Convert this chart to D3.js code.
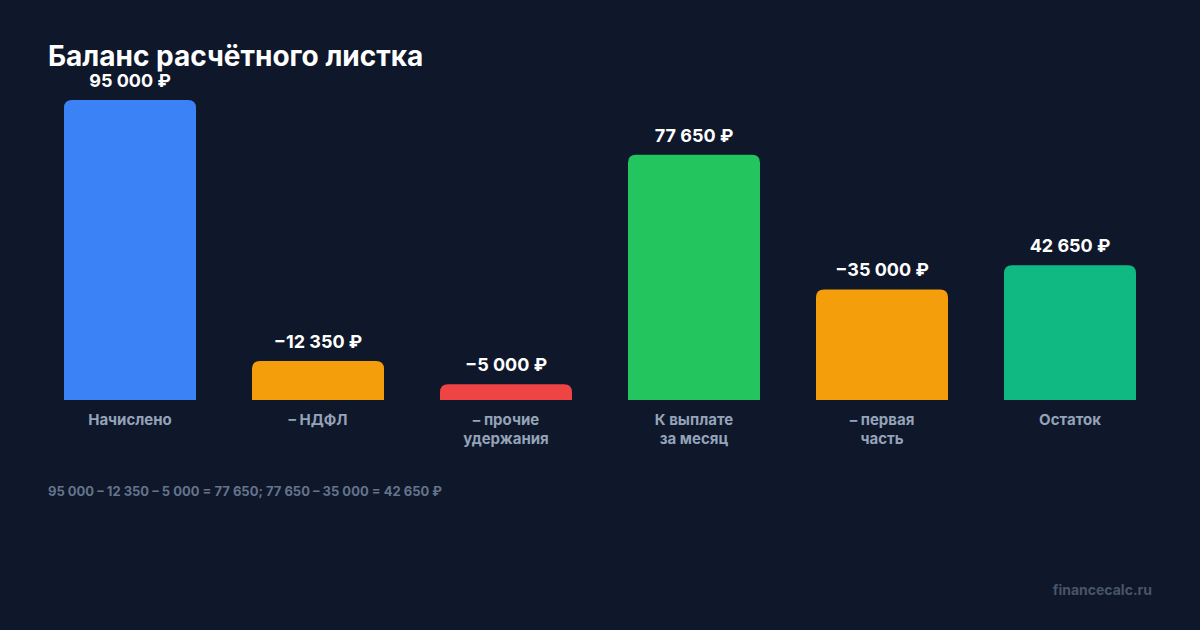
<!DOCTYPE html>
<html>
<head>
<meta charset="utf-8">
<script src="https://d3js.org/d3.v7.min.js"></script>
<style>
  html, body { margin: 0; padding: 0; background: #0f172a; }
  svg { display: block; font-family: Inter, "Noto Sans", sans-serif; }
</style>
</head>
<body>
<svg id="chart" width="1200" height="630"></svg>
<script>
// chart data
const categories = [["Начислено"], ["– НДФЛ"], ["– прочие", "удержания"], ["К выплате", "за месяц"], ["– первая", "часть"], ["Остаток"]];
const values = [95000, 12350, 5000, 77650, 35000, 42650];
const valueLabels = ["95 000 ₽", "−12 350 ₽", "−5 000 ₽", "77 650 ₽", "−35 000 ₽", "42 650 ₽"];
const barColors = ["#3b82f6", "#f59e0b", "#ef4444", "#22c55e", "#f59e0b", "#10b981"];
const titleText = "Баланс расчётного листка";
const footnote = "95 000 – 12 350 – 5 000 = 77 650; 77 650 – 35 000 = 42 650 ₽";
const sourceText = "financecalc.ru";

const svg = d3.select("#chart");
svg.append("rect").attr("width", 1200).attr("height", 630).attr("fill", "#0f172a");

const baseY = 400;
const x = d3.scaleBand()
    .domain(d3.range(values.length))
    .range([64, 1136])
    .paddingInner(56 / 188)
    .paddingOuter(0);

const y = d3.scaleLinear()
    .domain([0, 95000])
    .range([baseY, 100]);

// bar with rounded top corners only
function barPath(x0, w, top, bottom, r) {
    r = Math.min(r, (bottom - top), w / 2);
    return `M${x0},${bottom}V${top + r}Q${x0},${top} ${x0 + r},${top}H${x0 + w - r}Q${x0 + w},${top} ${x0 + w},${top + r}V${bottom}Z`;
}

const g = svg.append("g");

g.selectAll("path.bar")
    .data(values)
    .enter()
    .append("path")
    .attr("class", "bar")
    .attr("d", (d, i) => barPath(x(i), x.bandwidth(), y(d), baseY, 8))
    .attr("fill", (d, i) => barColors[i]);

g.selectAll("text.val")
    .data(values)
    .enter()
    .append("text")
    .attr("class", "val")
    .attr("x", (d, i) => x(i) + x.bandwidth() / 2)
    .attr("y", d => y(d) - 13)
    .attr("text-anchor", "middle")
    .attr("fill", "#ffffff")
    .attr("font-size", 18)
    .attr("font-weight", 700)
    .text((d, i) => valueLabels[i]);

const cat = g.selectAll("text.cat")
    .data(categories)
    .enter()
    .append("text")
    .attr("class", "cat")
    .attr("x", (d, i) => x(i) + x.bandwidth() / 2)
    .attr("y", 425)
    .attr("text-anchor", "middle")
    .attr("fill", "#94a3b8")
    .attr("font-size", 15)
    .attr("font-weight", 700);

cat.selectAll("tspan")
    .data(d => d)
    .enter()
    .append("tspan")
    .attr("x", function () { return d3.select(this.parentNode).attr("x"); })
    .attr("dy", (d, i) => i === 0 ? 0 : 19)
    .text(d => d);

svg.append("text")
    .attr("x", 48)
    .attr("y", 496)
    .attr("fill", "#64748b")
    .attr("font-size", 13)
    .attr("font-weight", 700)
    .text(footnote);

svg.append("text")
    .attr("x", 1152)
    .attr("y", 595)
    .attr("text-anchor", "end")
    .attr("fill", "#475569")
    .attr("font-size", 14)
    .attr("font-weight", 700)
    .text(sourceText);

// title drawn last so it sits above the first value label, as in the reference
svg.append("text")
    .attr("x", 48)
    .attr("y", 66)
    .attr("fill", "#ffffff")
    .attr("font-size", 28)
    .attr("font-weight", 700)
    .text(titleText);
</script>
</body>
</html>
